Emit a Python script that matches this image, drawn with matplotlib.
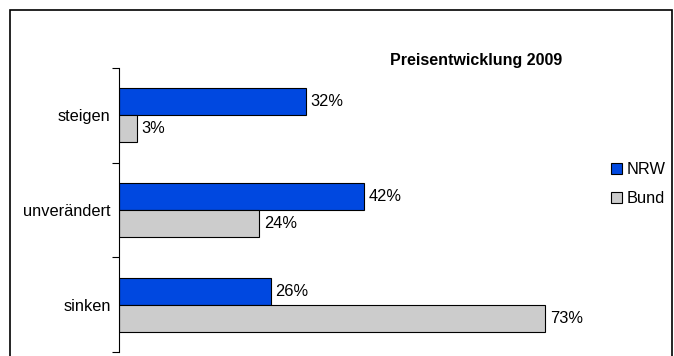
import matplotlib.pyplot as plt
import matplotlib.patches as mpatches
import numpy as np

plt.rcParams['font.family'] = ['Liberation Sans', 'DejaVu Sans']

categories = ['steigen', 'unverändert', 'sinken']
nrw = [32, 42, 26]
bund = [3, 24, 73]
title = 'Preisentwicklung 2009'

W, H = 674, 356
fig = plt.figure(figsize=(W / 100, H / 100), dpi=100)

# outer frame (runs off the bottom edge)
fig.patches.append(mpatches.Rectangle((10 / W, -0.05), 662 / W, (H - 10) / H + 0.05,
                                      transform=fig.transFigure, fill=False,
                                      edgecolor='black', linewidth=1.2))

ax = fig.add_axes([119 / W, (H - 352) / H, (580 - 119) / W, (352 - 68) / H])

y = np.arange(len(categories))
h = 0.285
ax.barh(y - h / 2, nrw, height=h, color='#0048E0', edgecolor='black', linewidth=0.8)
ax.barh(y + h / 2, bund, height=h, color='#CCCCCC', edgecolor='black', linewidth=0.8)

fs = 11.8
for i in range(len(categories)):
    ax.text(nrw[i] + 0.8, y[i] - h / 2, f'{nrw[i]}%', va='center', ha='left', fontsize=fs)
    ax.text(bund[i] + 0.8, y[i] + h / 2, f'{bund[i]}%', va='center', ha='left', fontsize=fs)

ax.set_xlim(0, 79)
ax.set_ylim(2.5, -0.5)
ax.set_yticks(y)
ax.set_yticklabels(categories, fontsize=fs)
ax.set_yticks([-0.5, 0.5, 1.5, 2.5], minor=True)
ax.tick_params(axis='y', which='major', length=0, pad=6)
ax.tick_params(axis='y', which='minor', length=5, width=0.8, direction='out')
ax.set_xticks([])
for s in ['top', 'right', 'bottom']:
    ax.spines[s].set_visible(False)
ax.spines['left'].set_linewidth(0.8)

fig.text(476 / W, 1 - 60 / H, title, ha='center', va='center', fontsize=11.5, fontweight='bold')

handles = [mpatches.Patch(facecolor='#0048E0', edgecolor='black', linewidth=0.8, label='NRW'),
           mpatches.Patch(facecolor='#CCCCCC', edgecolor='black', linewidth=0.8, label='Bund')]
fig.legend(handles=handles, loc='center left', bbox_to_anchor=(603 / W, 1 - 184 / H),
           frameon=False, fontsize=fs, handlelength=0.65, handleheight=0.65,
           handletextpad=0.3, labelspacing=0.85, borderpad=0)

fig.savefig('out.png', dpi=100)
